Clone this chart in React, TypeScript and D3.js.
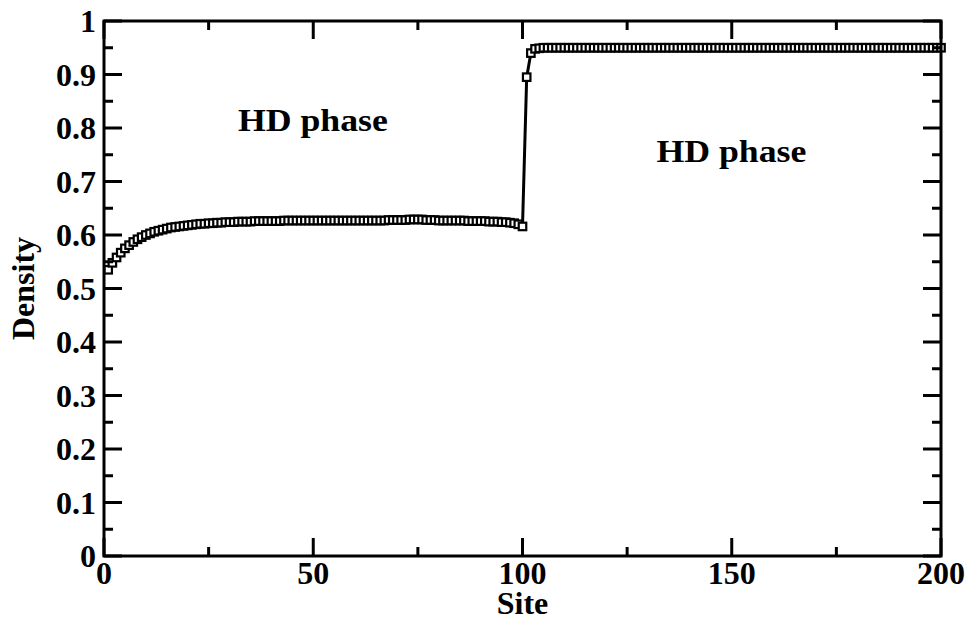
import React, { useEffect, useRef } from "react";
import * as d3 from "d3";

// density profile, sites 1..100 (left segment)
const densityLeft = [
  0.535, 0.548, 0.558, 0.567, 0.575, 0.581, 0.587, 0.592, 0.596, 0.600,
  0.603, 0.606, 0.608, 0.610, 0.612, 0.614, 0.615, 0.616, 0.617, 0.618,
  0.619, 0.620, 0.621, 0.621, 0.622, 0.622, 0.623, 0.623, 0.624, 0.624,
  0.624, 0.625, 0.625, 0.625, 0.625, 0.626, 0.626, 0.626, 0.626, 0.626,
  0.626, 0.626, 0.627, 0.627, 0.627, 0.627, 0.627, 0.627, 0.627, 0.627,
  0.627, 0.627, 0.627, 0.627, 0.627, 0.627, 0.627, 0.627, 0.627, 0.627,
  0.627, 0.627, 0.627, 0.627, 0.627, 0.627, 0.627, 0.628, 0.628, 0.628,
  0.628, 0.628, 0.629, 0.629, 0.629, 0.629, 0.628, 0.628, 0.628, 0.627,
  0.627, 0.627, 0.627, 0.627, 0.627, 0.627, 0.626, 0.626, 0.626, 0.626,
  0.626, 0.625, 0.625, 0.625, 0.624, 0.624, 0.623, 0.622, 0.620, 0.616,
];

// sites 101..200 (right segment)
const densityRight = [
  0.895, 0.940, 0.948, 0.949, 0.950, 0.950, 0.950, 0.950, 0.950, 0.950,
  0.950, 0.950, 0.950, 0.950, 0.950, 0.950, 0.950, 0.950, 0.950, 0.950,
  0.950, 0.950, 0.950, 0.950, 0.950, 0.950, 0.950, 0.950, 0.950, 0.950,
  0.950, 0.950, 0.950, 0.950, 0.950, 0.950, 0.950, 0.950, 0.950, 0.950,
  0.950, 0.950, 0.950, 0.950, 0.950, 0.950, 0.950, 0.950, 0.950, 0.950,
  0.950, 0.950, 0.950, 0.950, 0.950, 0.950, 0.950, 0.950, 0.950, 0.950,
  0.950, 0.950, 0.950, 0.950, 0.950, 0.950, 0.950, 0.950, 0.950, 0.950,
  0.950, 0.950, 0.950, 0.950, 0.950, 0.950, 0.950, 0.950, 0.950, 0.950,
  0.950, 0.950, 0.950, 0.950, 0.950, 0.950, 0.950, 0.950, 0.950, 0.950,
  0.950, 0.950, 0.950, 0.950, 0.950, 0.950, 0.950, 0.950, 0.950, 0.950,
];

const density = densityLeft.concat(densityRight);
const sites = density.map((d, i) => i + 1);

const xTicks = [0, 50, 100, 150, 200];
const xMinor = [25, 75, 125, 175];
const yTicks = [0, 0.1, 0.2, 0.3, 0.4, 0.5, 0.6, 0.7, 0.8, 0.9, 1];
const yMinor = [0.05, 0.15, 0.25, 0.35, 0.45, 0.55, 0.65, 0.75, 0.85, 0.95];
const phaseLabels = [
  { text: "HD phase", site: 32, value: 0.795 },
  { text: "HD phase", site: 132, value: 0.737 },
];

const FONT = "'Liberation Serif', 'Times New Roman', serif";

export default function App() {
  const ref = useRef<SVGSVGElement>(null);

  useEffect(() => {
    const svg = d3.select(ref.current);
    svg.selectAll("*").remove();

    const W = 972, H = 622;
    const m = { left: 104, right: 31, top: 21, bottom: 66 };
    const w = W - m.left - m.right;
    const h = H - m.top - m.bottom;

    const x = d3.scaleLinear().domain([0, 200]).range([0, w]);
    const y = d3.scaleLinear().domain([0, 1]).range([h, 0]);

    const g = svg.append("g").attr("transform", `translate(${m.left},${m.top})`);

    // data line + markers
    const pts = sites.map((s, i) => [s, density[i]] as [number, number]);
    g.append("path")
      .datum(pts)
      .attr("fill", "none")
      .attr("stroke", "#000")
      .attr("stroke-width", 3)
      .attr("d", d3.line().x((d) => x(d[0])).y((d) => y(d[1])));

    const ms = 7.5;
    g.selectAll("rect.mk")
      .data(pts)
      .enter()
      .append("rect")
      .attr("class", "mk")
      .attr("x", (d) => x(d[0]) - ms / 2)
      .attr("y", (d) => y(d[1]) - ms / 2)
      .attr("width", ms)
      .attr("height", ms)
      .attr("fill", "#fff")
      .attr("stroke", "#000")
      .attr("stroke-width", 2.2);

    // ticks on all four sides, pointing inward
    const tk = g.append("g").attr("stroke", "#000").attr("stroke-width", 3);
    const xt = [...xTicks.map((v) => [v, 18]), ...xMinor.map((v) => [v, 9])];
    xt.forEach(([v, len]) => {
      tk.append("line").attr("x1", x(v)).attr("x2", x(v)).attr("y1", h).attr("y2", h - len);
      tk.append("line").attr("x1", x(v)).attr("x2", x(v)).attr("y1", 0).attr("y2", len);
    });
    const yt = [...yTicks.map((v) => [v, 18]), ...yMinor.map((v) => [v, 9])];
    yt.forEach(([v, len]) => {
      tk.append("line").attr("y1", y(v)).attr("y2", y(v)).attr("x1", 0).attr("x2", len);
      tk.append("line").attr("y1", y(v)).attr("y2", y(v)).attr("x1", w).attr("x2", w - len);
    });

    // frame
    g.append("rect")
      .attr("width", w)
      .attr("height", h)
      .attr("fill", "none")
      .attr("stroke", "#000")
      .attr("stroke-width", 3);

    const txt = (sel: any) =>
      sel.attr("font-family", FONT).attr("font-weight", "bold").attr("font-size", 32).attr("fill", "#000");

    g.selectAll("text.xl")
      .data(xTicks)
      .enter()
      .append("text")
      .call(txt)
      .attr("x", (d) => x(d))
      .attr("y", h + 28)
      .attr("text-anchor", "middle")
      .text((d) => String(d));

    g.selectAll("text.yl")
      .data(yTicks)
      .enter()
      .append("text")
      .call(txt)
      .attr("x", -8)
      .attr("y", (d) => y(d) + 11)
      .attr("text-anchor", "end")
      .text((d) => (d === 0 || d === 1 ? String(d) : d.toFixed(1)));

    g.append("text")
      .call(txt)
      .attr("x", w / 2)
      .attr("y", h + 58)
      .attr("text-anchor", "middle")
      .text("Site");

    g.append("text")
      .call(txt)
      .attr("transform", `translate(${-70},${h / 2}) rotate(-90)`)
      .attr("text-anchor", "middle")
      .text("Density");

    g.selectAll("text.ph")
      .data(phaseLabels)
      .enter()
      .append("text")
      .call(txt)
      .attr("x", (d) => x(d.site))
      .attr("y", (d) => y(d.value))
      .attr("textLength", 150)
      .attr("lengthAdjust", "spacingAndGlyphs")
      .text((d) => d.text);
  }, []);

  return (
    <div style={{ position: "fixed", left: 0, top: 0 }}>
      <svg ref={ref} width={972} height={622} style={{ display: "block", background: "#fff" }}></svg>
    </div>
  );
}
